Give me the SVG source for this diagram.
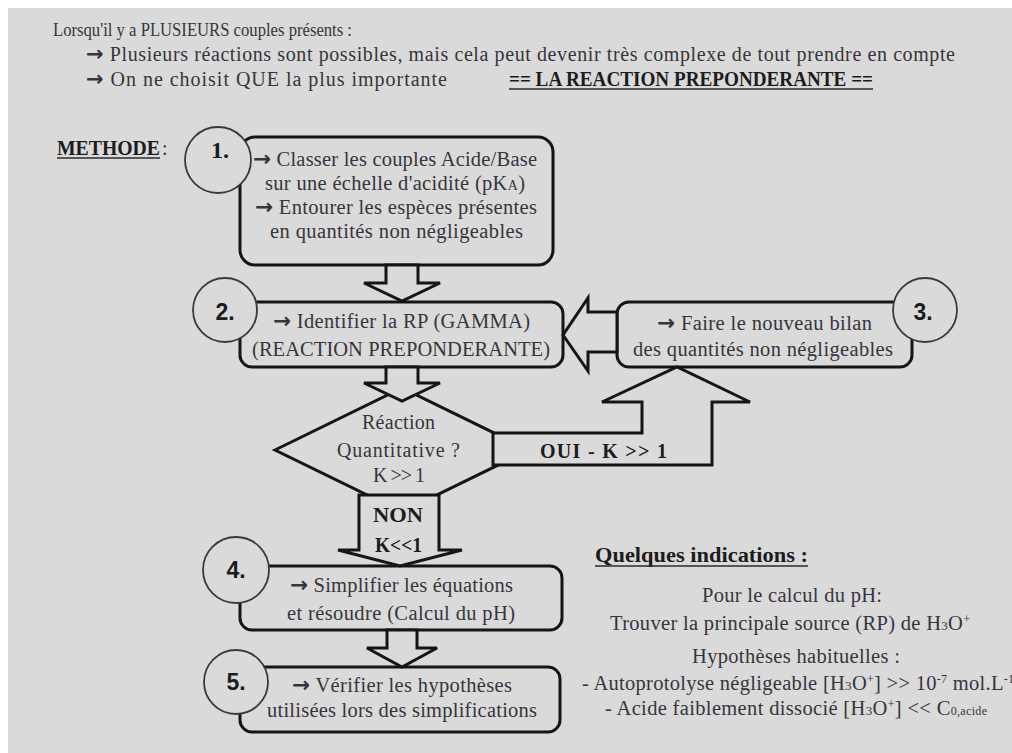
<svg xmlns="http://www.w3.org/2000/svg" width="1012" height="753" viewBox="0 0 1012 753">
<style>
.t{font-family:"Liberation Serif","Times New Roman",serif;fill:#37353c}
.s19{font-size:19px}
.s20{font-size:20px}
.s21{font-size:20.5px}
.bd{font-weight:bold;fill:#1c1c1c}
.ar{font-family:"DejaVu Sans",sans-serif;font-size:1.05em;font-weight:bold}
.num{font-family:"Liberation Sans",Arial,sans-serif;font-weight:bold;font-size:23px;fill:#1c1c1c;text-anchor:middle}
.num1{font-family:"Liberation Serif",serif;font-weight:bold;font-size:24px;fill:#1c1c1c;text-anchor:middle}
.box{fill:#dadada;stroke:#151515;stroke-width:3}
.circ{fill:#dadada;stroke:#3a3a3a;stroke-width:1.8}
.arr{fill:#dadada;stroke:#151515;stroke-width:3;stroke-linejoin:miter}
.ul{stroke:#2a2a2a;stroke-width:1.5}
</style>
<rect x="0" y="0" width="1012" height="753" fill="#ffffff"/>
<rect x="8" y="8" width="1004" height="745" fill="#dadada"/>

<g id="intro">
<text class="t s19" x="53" y="36" textLength="299" lengthAdjust="spacingAndGlyphs">Lorsqu'il y a PLUSIEURS couples présents :</text>
<text class="t s20" x="86" y="61" textLength="869" lengthAdjust="spacing"><tspan class="ar">→</tspan> Plusieurs réactions sont possibles, mais cela peut devenir très complexe de tout prendre en compte</text>
<text class="t s20" x="86" y="86" textLength="361" lengthAdjust="spacing"><tspan class="ar">→</tspan> On ne choisit QUE la plus importante</text>
<text class="t s20 bd" x="509" y="86" textLength="364" lengthAdjust="spacingAndGlyphs">== LA REACTION PREPONDERANTE ==</text>
<line class="ul" x1="509" y1="89" x2="873" y2="89"/>
<text class="t s20 bd" x="57" y="155" textLength="103" lengthAdjust="spacingAndGlyphs">METHODE</text>
<line class="ul" x1="57" y1="158" x2="160" y2="158"/>
<text class="t s20" x="162" y="155">:</text>
</g>

<g id="node-1">
<rect class="box" x="240" y="137" width="313" height="128" rx="15"/>
<circle class="circ" cx="218" cy="160" r="33"/>
<text class="num1" x="220" y="158">1.</text>
<text class="t s21" x="253" y="166" textLength="284" lengthAdjust="spacing"><tspan class="ar">→</tspan> Classer les couples Acide/Base</text>
<text class="t s21" x="265" y="190" textLength="260" lengthAdjust="spacing">sur une échelle d'acidité (pK<tspan font-size="14">A</tspan>)</text>
<text class="t s21" x="255" y="214" textLength="282" lengthAdjust="spacing"><tspan class="ar">→</tspan> Entourer les espèces présentes</text>
<text class="t s21" x="270" y="238" textLength="253" lengthAdjust="spacing">en quantités non négligeables</text>
</g>

<g id="node-2">
<rect class="box" x="240" y="302" width="323" height="65" rx="12"/>
<circle class="circ" cx="225" cy="310" r="32"/>
<text class="num" x="225" y="320">2.</text>
<text class="t s21" x="273" y="328" textLength="257" lengthAdjust="spacing"><tspan class="ar">→</tspan> Identifier la RP (GAMMA)</text>
<text class="t s21" x="252" y="356" textLength="298" lengthAdjust="spacing">(REACTION PREPONDERANTE)</text>
</g>

<g id="node-3">
<rect class="box" x="617" y="302" width="295" height="65" rx="12"/>
<circle class="circ" cx="925" cy="310" r="32"/>
<text class="num" x="923" y="320">3.</text>
<text class="t s21" x="657" y="330" textLength="215" lengthAdjust="spacing"><tspan class="ar">→</tspan> Faire le nouveau bilan</text>
<text class="t s21" x="633" y="356" textLength="260" lengthAdjust="spacing">des quantités non négligeables</text>
</g>

<g id="node-decision">
<polygon class="box" points="275,450 402,388 529,450 402,512"/>
<text class="t s20" x="362" y="429" textLength="73" lengthAdjust="spacing">Réaction</text>
<text class="t s20" x="337" y="457" textLength="123" lengthAdjust="spacing">Quantitative ?</text>
<text class="t s20" x="373" y="482" textLength="52" lengthAdjust="spacing">K &gt;&gt; 1</text>
</g>

<g id="node-4">
<rect class="box" x="240" y="566" width="322" height="64" rx="12"/>
<circle class="circ" cx="236" cy="570" r="33"/>
<text class="num" x="236" y="578">4.</text>
<text class="t s21" x="290" y="592" textLength="223" lengthAdjust="spacing"><tspan class="ar">→</tspan> Simplifier les équations</text>
<text class="t s21" x="287" y="620" textLength="228" lengthAdjust="spacing">et résoudre (Calcul du pH)</text>
</g>

<g id="node-5">
<rect class="box" x="240" y="667" width="320" height="65" rx="12"/>
<circle class="circ" cx="236" cy="682" r="32"/>
<text class="num" x="236" y="690">5.</text>
<text class="t s21" x="292" y="692" textLength="220" lengthAdjust="spacing"><tspan class="ar">→</tspan> Vérifier les hypothèses</text>
<text class="t s21" x="267" y="717" textLength="270" lengthAdjust="spacing">utilisées lors des simplifications</text>
</g>

<g id="connectors">
<polygon class="arr" points="386,265 418,265 418,283 440,283 402,301 364,283 386,283"/>
<polygon class="arr" points="386,367 418,367 418,383 440,383 402,401 364,383 386,383"/>
<polygon class="arr" points="617,312 588,312 588,298 563,335 588,371 588,352 617,352"/>
<polygon class="arr" points="493,433 642,433 642,402 602,402 677,367 750,402 712,402 712,465 493,465"/>
<polygon class="arr" points="359,495 439,495 439,550 462,550 400,566 338,550 359,550"/>
<polygon class="arr" points="387,630 417,630 417,648 437,648 402,667 367,648 387,648"/>
<text class="t s20 bd" x="540" y="458" textLength="127" lengthAdjust="spacing">OUI - K &gt;&gt; 1</text>
<text class="t s20 bd" x="373" y="522" textLength="50" lengthAdjust="spacingAndGlyphs">NON</text>
<text class="t s20 bd" x="375" y="552" textLength="47" lengthAdjust="spacingAndGlyphs">K&lt;&lt;1</text>
</g>

<g id="indications">
<text class="t s21 bd" x="595" y="562" textLength="213" lengthAdjust="spacingAndGlyphs">Quelques indications :</text>
<line class="ul" x1="595" y1="566" x2="808" y2="566"/>
<text class="t s21" x="702" y="602" textLength="180" lengthAdjust="spacing">Pour le calcul du pH:</text>
<text class="t s21" x="610" y="630" textLength="360" lengthAdjust="spacing">Trouver la principale source (RP) de H<tspan font-size="13">3</tspan>O<tspan font-size="12" dy="-7">+</tspan></text>
<text class="t s21" x="692" y="663" textLength="208" lengthAdjust="spacing">Hypothèses habituelles :</text>
<text class="t s21" x="582" y="690" textLength="432" lengthAdjust="spacing">- Autoprotolyse négligeable [H<tspan font-size="13">3</tspan>O<tspan font-size="12" dy="-7">+</tspan><tspan dy="7">] &gt;&gt; 10</tspan><tspan font-size="12" dy="-7">-7</tspan><tspan dy="7"> mol.L</tspan><tspan font-size="12" dy="-7">-1</tspan></text>
<text class="t s21" x="605" y="715" textLength="382" lengthAdjust="spacing">- Acide faiblement dissocié  [H<tspan font-size="13">3</tspan>O<tspan font-size="12" dy="-7">+</tspan><tspan dy="7">] &lt;&lt; C</tspan><tspan font-size="12">0,acide</tspan></text>
</g>
</svg>
